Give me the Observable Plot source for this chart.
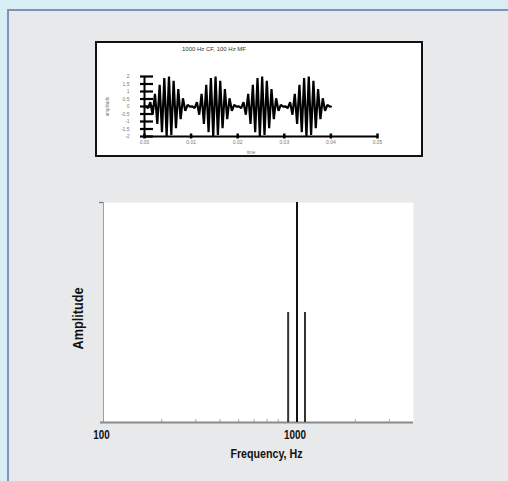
<!DOCTYPE html>
<html><head><meta charset="utf-8">
<script src="https://cdn.jsdelivr.net/npm/d3@7"></script>
<script src="https://cdn.jsdelivr.net/npm/@observablehq/plot@0.6"></script>
<style>
html,body{margin:0;padding:0;width:508px;height:481px;overflow:hidden;background:#d9edf5;font-family:"Liberation Sans",Arial,sans-serif}
#panel{position:absolute;left:7px;top:9px;width:520px;height:500px;background:#e8e9ea;border-left:2px solid #7f93ba;border-top:2px solid #7f93ba}
#inset{position:absolute;left:95px;top:41px;width:328px;height:116px;box-sizing:border-box;border:2px solid #111;background:#fff}
#insetTitle{position:absolute;left:0;top:3px;width:234px;text-align:center;font-size:6px;line-height:6px;color:#333;font-family:"Liberation Sans",Arial,sans-serif;white-space:nowrap}
#insetPlot{position:absolute;left:0;top:0}
#spectrum{position:absolute;left:0;top:180px}
svg{overflow:visible}
</style>
</head><body>
<div id="panel"></div>
<div id="inset"><div id="insetPlot"></div><div id="insetTitle"></div></div>
<div id="spectrum"></div>
<script>
// ---- data: spectrum ----
const spectrumFreqs = [900, 1000, 1100];
const spectrumAmps = [0.5, 1, 0.5];
const spectrumTicks = [100, 1000];
const spectrumMinorTicks = [200, 300, 400, 500, 600, 700, 800, 900, 2000, 3000];
const spectrumXLabel = "Frequency, Hz";
const spectrumYLabel = "Amplitude";

// ---- data: waveform inset ----
const waveTitle = "1000 Hz CF, 100 Hz MF";
const waveXTicks = [0, 0.01, 0.02, 0.03, 0.04, 0.05];
const waveXTickLabels = ["0.00", "0.01", "0.02", "0.03", "0.04", "0.05"];
const waveYTicks = [2, 1.5, 1, 0.5, 0, -0.5, -1, -1.5, -2];
const waveYTickLabels = ["2", "1.5", "1", "0.5", "0", "-0.5", "-1", "-1.5", "-2"];
// carrier peak values (alternating half-cycles)
const wavePeaks = [
  0.01, -0.11, 0.29, -0.55, 0.84, -1.16, 1.45, -1.71, 1.89, -1.99, 1.99, -1.89, 1.71, -1.45, 1.16, -0.84, 0.55, -0.29, 0.11, -0.01,
  0.01, -0.11, 0.29, -0.55, 0.84, -1.16, 1.45, -1.71, 1.89, -1.99, 1.99, -1.89, 1.71, -1.45, 1.16, -0.84, 0.55, -0.29, 0.11, -0.01,
  0.01, -0.11, 0.29, -0.55, 0.84, -1.16, 1.45, -1.71, 1.89, -1.99, 1.99, -1.89, 1.71, -1.45, 1.16, -0.84, 0.55, -0.29, 0.11, -0.01,
  0.01, -0.11, 0.29, -0.55, 0.84, -1.16, 1.45, -1.71, 1.89, -1.99, 1.99, -1.89, 1.71, -1.45, 1.16, -0.84, 0.55, -0.29, 0.11, -0.01
];
const waveSampleStart = 0.00025;
const waveSampleStep = 0.0005;
const waveEnd = 0.04;
const waveXLabel = "time";
const waveYLabel = "amplitude";

const sans = "'Liberation Sans',Arial,sans-serif";

document.getElementById("insetTitle").textContent = waveTitle;

// ---- inset plot ----
const wave = [{t: 0, v: 0}]
  .concat(wavePeaks.map((v, i) => ({t: waveSampleStart + i * waveSampleStep, v})))
  .concat([{t: waveEnd, v: 0}]);
const yMin = waveYTicks[waveYTicks.length - 1], yMax = waveYTicks[0];
const xMin = waveXTicks[0], xMax = waveXTicks[waveXTicks.length - 1];

const inset = Plot.plot({
  width: 324, height: 112,
  marginLeft: 47, marginRight: 44, marginTop: 33, marginBottom: 19,
  style: {background: "transparent", fontFamily: sans},
  x: {domain: [xMin, xMax], axis: null},
  y: {domain: [yMin, yMax], axis: null},
  marks: [
    Plot.line(wave, {x: "t", y: "v", stroke: "#000", strokeWidth: 2.2, strokeLinejoin: "miter"}),
    Plot.ruleY([yMin], {y: d => d, x1: () => xMin, x2: () => xMax, stroke: "#000", strokeWidth: 2}),
    Plot.ruleX([xMin], {x: d => d, y1: () => yMin, y2: () => yMax, stroke: "#000", strokeWidth: 2}),
    Plot.ruleY(waveYTicks, {y: d => d, x1: () => xMin, x2: () => xMin, insetLeft: -4, insetRight: -9, stroke: "#000", strokeWidth: 2.2}),
    Plot.ruleX(waveXTicks, {x: d => d, y1: () => yMin, y2: () => yMin, insetTop: -2.5, insetBottom: -2.5, stroke: "#000", strokeWidth: 2.5}),
    Plot.text(waveYTicks, {x: () => xMin, y: d => d, text: (d, i) => waveYTickLabels[i], textAnchor: "end", dx: -15, fontSize: 5, fill: "#777"}),
    Plot.text(waveXTicks, {x: d => d, y: () => yMin, text: (d, i) => waveXTickLabels[i], dy: 6, fontSize: 5, fill: "#777"}),
    Plot.text([waveXLabel], {frameAnchor: "bottom", lineAnchor: "middle", dx: -10, dy: 16, fontSize: 4.5, fill: "#777"}),
    Plot.text([waveYLabel], {frameAnchor: "left", textAnchor: "middle", lineAnchor: "middle", rotate: -90, dx: -37, fontSize: 4.5, fill: "#777"})
  ]
});
document.getElementById("insetPlot").append(inset);

// ---- spectrum plot ----
const spectrum = spectrumFreqs.map((f, i) => ({f, a: spectrumAmps[i]}));
const spec = Plot.plot({
  width: 460, height: 290,
  marginLeft: 103, marginRight: 47, marginTop: 22, marginBottom: 48,
  style: {background: "transparent", fontFamily: sans},
  x: {type: "log", domain: [100, 4000], axis: null},
  y: {domain: [0, 1], axis: null},
  marks: [
    Plot.frame({fill: "#fff", stroke: null}),
    Plot.ruleX([100], {x: d => d, stroke: "#a0a0a0", strokeWidth: 1}),
    Plot.ruleY([1], {y: d => d, x1: () => 100, x2: () => 100, insetLeft: -4, stroke: "#777", strokeWidth: 1.2}),
    Plot.ruleX(spectrumMinorTicks, {x: d => d, y1: () => 0, y2: () => 0, insetTop: -3, stroke: "#aaa", strokeWidth: 1}),
    Plot.ruleY([0], {y: d => d, insetLeft: -3, stroke: "#8a8a8a", strokeWidth: 2}),
    Plot.ruleX(spectrum, {x: "f", y1: () => 0, y2: "a", stroke: d => d.a === 1 ? "#111" : "#333", strokeWidth: 2}),
    Plot.text(spectrumTicks, {x: d => d, y: () => 0, text: d => String(d), lineAnchor: "middle", dx: -2, dy: 13, fontSize: 12, fontWeight: "bold", fill: "#111"}),
    Plot.text([spectrumXLabel], {frameAnchor: "bottom", lineAnchor: "middle", dx: 8, dy: 31, fontSize: 13, fontWeight: "bold", fill: "#111"}),
    Plot.text([spectrumYLabel], {frameAnchor: "left", textAnchor: "middle", lineAnchor: "middle", rotate: -90, dx: -25, dy: 6, fontSize: 15.5, fontWeight: "bold", fill: "#111"})
  ]
});
document.getElementById("spectrum").append(spec);

// condense the bold labels (the original uses a narrow bold face)
spec.querySelectorAll("text").forEach(t => {
  const w = t.getComputedTextLength();
  if (w > 0) {
    t.setAttribute("textLength", (w * 0.82).toFixed(1));
    t.setAttribute("lengthAdjust", "spacingAndGlyphs");
  }
});
</script>
</body></html>
